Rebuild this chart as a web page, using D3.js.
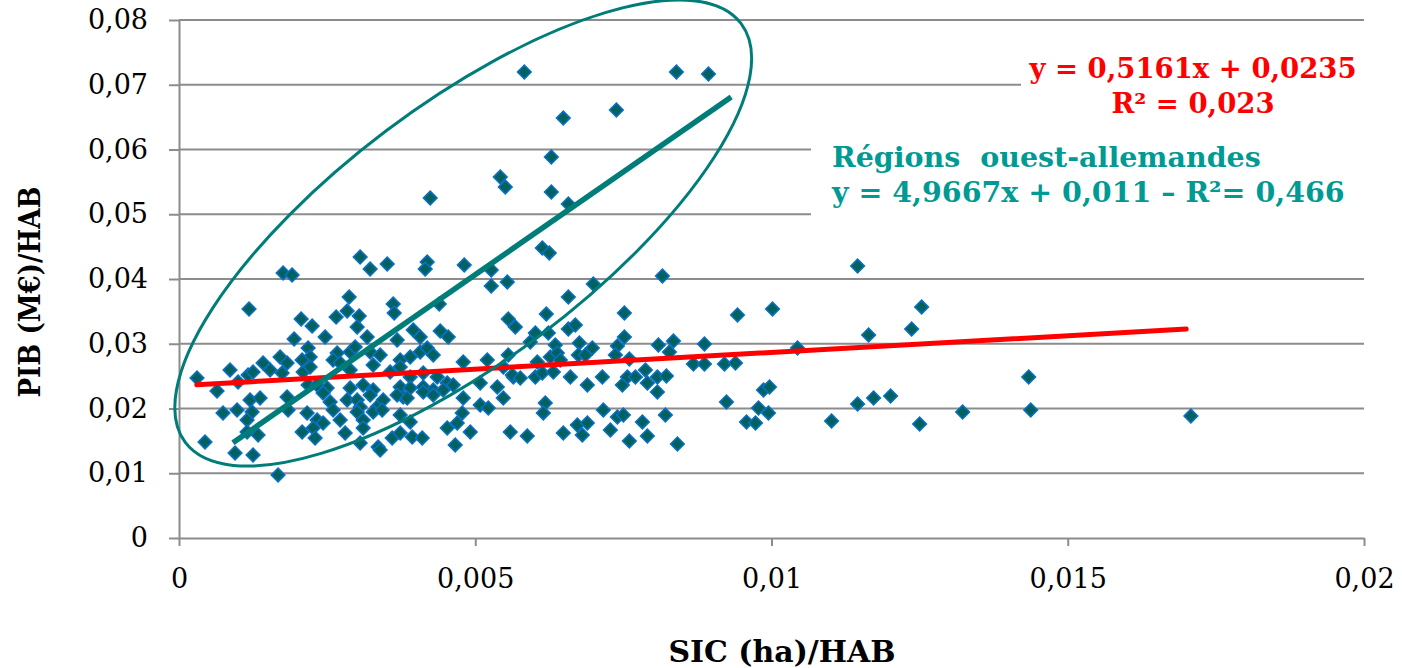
<!DOCTYPE html>
<html>
<head>
<meta charset="utf-8">
<script src="https://cdn.jsdelivr.net/npm/d3@7"></script>
<style>
  body { margin: 0; background: #fff; }
  svg { display: block; }
  text { white-space: pre; }
</style>
</head>
<body>
<svg width="1402" height="668"></svg>
<script>
"use strict";

// SIC (ha) per inhabitant, one value per region
var sic = [
  0.003057,0.003226,0.003514,0.004189,0.004155,0.004814,0.005270,0.005270,0.005541,0.001757,
  0.001909,0.001182,0.002872,0.002838,0.003041,0.003007,0.002061,0.002247,0.002652,0.003615,
  0.003632,0.004392,0.005557,0.005676,0.001943,0.002466,0.003176,0.003682,0.003953,0.004071,
  0.004409,0.004544,0.002179,0.002213,0.002669,0.002889,0.002973,0.003226,0.003395,0.003733,
  0.003902,0.004071,0.004189,0.004291,0.000861,0.000997,0.001166,0.001250,0.001419,0.001537,
  0.001706,0.001824,0.001740,0.002078,0.002095,0.002213,0.002601,0.002720,0.002889,0.003277,
  0.003564,0.003733,0.003902,0.004122,0.004358,0.004797,0.005203,0.005473,0.005642,0.000304,
  0.000642,0.002179,0.002331,0.002500,0.002889,0.003108,0.003277,0.003733,0.003784,0.003902,
  0.004122,0.004291,0.004527,0.004628,0.005084,0.005372,0.005625,0.001199,0.001368,0.000980,
  0.000743,0.001233,0.001149,0.001824,0.001841,0.002432,0.002551,0.002838,0.003007,0.003057,
  0.003226,0.003345,0.003446,0.003682,0.003851,0.004122,0.004291,0.004459,0.004797,0.005084,
  0.005220,0.005473,0.002162,0.002331,0.002432,0.002601,0.002720,0.003007,0.003108,0.003277,
  0.003429,0.003733,0.003902,0.004780,0.004696,0.004527,0.004916,0.005591,0.001149,0.001334,
  0.002078,0.002264,0.002297,0.002804,0.003108,0.003598,0.003733,0.003936,0.004105,0.000439,
  0.000946,0.001250,0.003057,0.003361,0.003395,0.004662,0.001672,
  0.006132,0.006250,0.006199,0.006571,0.006993,0.008159,0.007517,0.006014,0.006233,0.006571,
  0.006689,0.007517,0.005929,0.006351,0.006757,0.006976,0.007399,0.008091,0.008345,0.008277,
  0.008868,0.009426,0.010017,0.010439,0.005557,0.006047,0.006267,0.006385,0.006436,0.006740,
  0.006858,0.007365,0.007601,0.008682,0.008868,0.009206,0.009392,0.005760,0.006014,0.006132,
  0.006318,0.006605,0.006892,0.007145,0.007483,0.007568,0.007703,0.007872,0.007905,0.008074,
  0.008226,0.008074,0.006182,0.006149,0.005878,0.006486,0.006723,0.006892,0.006807,0.007162,
  0.007399,0.007500,0.007280,0.007601,0.007821,0.007905,0.008209,0.008412,0.009240,0.009865,
  0.009966,0.009780,0.009949,0.009578,0.009730,0.011014,
  0.011453,0.012534,0.012365,0.011639,0.014341,0.011453,0.011723,0.012010,0.012500,0.013226,
  0.014375,0.017078,
  0.004240,0.005422,0.005507,0.005828,0.006284,0.006284,0.006571,0.006486,0.007382,0.008395,
  0.008936
];

// PIB (M€) per inhabitant, same order
var pib = [
  0.04340,0.04154,0.04232,0.04263,0.04154,0.04216,0.04139,0.03892,0.03954,0.04093,
  0.04062,0.03537,0.03722,0.03506,0.03429,0.03259,0.03382,0.03274,0.03413,0.03614,
  0.03475,0.03614,0.03382,0.03259,0.03073,0.03104,0.03104,0.03058,0.03212,0.03104,
  0.03197,0.03104,0.02934,0.02795,0.02857,0.02873,0.02950,0.02873,0.02826,0.02749,
  0.02795,0.02873,0.02934,0.02826,0.02595,0.02409,0.02517,0.02564,0.02703,0.02595,
  0.02795,0.02703,0.02548,0.02749,0.02564,0.02641,0.02749,0.02703,0.02595,0.02672,
  0.02564,0.02641,0.02486,0.02548,0.02486,0.02718,0.02749,0.02641,0.02486,0.02471,
  0.02270,0.02363,0.02363,0.02317,0.02317,0.02363,0.02286,0.02332,0.02178,0.02317,
  0.02332,0.02286,0.02394,0.02363,0.02394,0.02332,0.02517,0.02131,0.02162,0.01977,
  0.01931,0.01946,0.01822,0.02178,0.01977,0.02239,0.02100,0.02131,0.02131,0.02023,
  0.02208,0.02023,0.02131,0.02208,0.02162,0.02255,0.02208,0.02286,0.02162,0.02054,
  0.02008,0.02162,0.01931,0.01822,0.01776,0.01977,0.01822,0.01946,0.01822,0.01946,
  0.01977,0.01900,0.01792,0.01931,0.01776,0.01699,0.01637,0.01637,0.01637,0.01591,
  0.01637,0.01699,0.01544,0.01622,0.01699,0.01544,0.01622,0.01560,0.01544,0.01483,
  0.01313,0.01282,0.01467,0.01405,0.01359,0.01436,0.00973,
  0.04479,0.04402,0.03459,0.03722,0.03923,0.04046,0.03475,0.03166,0.03166,0.03228,
  0.03290,0.03104,0.03027,0.02981,0.03012,0.02934,0.02965,0.02981,0.03042,0.02873,
  0.02996,0.03444,0.03537,0.02934,0.02826,0.02718,0.02795,0.02857,0.02749,0.02826,
  0.02826,0.02826,0.02764,0.02687,0.02687,0.02687,0.02703,0.02471,0.02486,0.02548,
  0.02564,0.02486,0.02363,0.02486,0.02363,0.02486,0.02486,0.02595,0.02394,0.02486,
  0.02502,0.02255,0.02085,0.01931,0.01575,0.01622,0.01745,0.01776,0.01591,0.01977,
  0.01869,0.01900,0.01668,0.01498,0.01792,0.01575,0.01900,0.01452,0.02100,0.02286,
  0.02332,0.02008,0.01931,0.01792,0.01776,0.01807,
  0.04201,0.03568,0.03228,0.03135,0.02486,0.02070,0.02162,0.02193,0.01761,0.01946,
  0.01977,0.01884,
  0.05251,0.05575,0.05421,0.07197,0.05884,0.05344,0.05158,0.06486,0.06610,0.07197,
  0.07166
];

var xTicks = [0, 0.005, 0.01, 0.015, 0.02];
var yTicks = [0, 0.01, 0.02, 0.03, 0.04, 0.05, 0.06, 0.07, 0.08];

// trend over all regions
var allSlope = 0.5161, allIntercept = 0.0235;
var allFitFrom = 0.0003, allFitTo = 0.017;
var allLabel = ["y = 0,5161x + 0,0235", "R² = 0,023"];

// west german regions: hand drawn line and ellipse
var westLineX = [0.00091, 0.00932];
var westLineY = [0.0147, 0.0681];
var westCenterX = 0.004797, westCenterY = 0.04710;
var westLabel = ["Régions  ouest-allemandes", "y = 4,9667x + 0,011 – R²= 0,466"];

var xTitle = "SIC (ha)/HAB";
var yTitle = "PIB (M€)/HAB";

var GRID = "#8c8c8c";
var TEAL = "#007d78";
var TEAL_TEXT = "#009a95";
var RED = "#ff0000";
var SERIF = "'DejaVu Serif', serif";

var svg = d3.select("svg");

var x = d3.scaleLinear().domain([0, 0.02]).range([179, 1364]);
var y = d3.scaleLinear().domain([0, 0.08]).range([538, 20]);

var loc = d3.formatLocale({ decimal: ",", thousands: " ", grouping: [3], currency: ["", "€"] });
var fmt = loc.format("~g");

// horizontal grid
svg.append("g")
    .selectAll("line")
    .data(yTicks.slice(1))
    .enter().append("line")
    .attr("x1", x(0)).attr("x2", x(0.02))
    .attr("y1", function (d) { return y(d); })
    .attr("y2", function (d) { return y(d); })
    .attr("stroke", GRID)
    .attr("stroke-width", 2);

// axes
var gy = svg.append("g")
    .attr("transform", "translate(" + x(0) + ",0)")
    .call(d3.axisLeft(y).tickValues(yTicks).tickSize(10).tickSizeOuter(0).tickPadding(21).tickFormat(fmt));

var gx = svg.append("g")
    .attr("transform", "translate(0," + y(0) + ")")
    .call(d3.axisBottom(x).tickValues(xTicks).tickSize(8).tickSizeOuter(0).tickPadding(23).tickFormat(fmt));

[gx, gy].forEach(function (g) {
    g.select(".domain").attr("stroke", GRID).attr("stroke-width", 2);
    g.selectAll(".tick line").attr("stroke", GRID).attr("stroke-width", 2);
    g.selectAll(".tick text")
        .attr("fill", "#000")
        .style("font-family", SERIF)
        .style("font-size", "27px");
});

// white boxes behind the equations
svg.append("rect")
    .attr("x", 1021).attr("y", 48).attr("width", 348).attr("height", 76)
    .attr("fill", "#fff");
svg.append("rect")
    .attr("x", 811).attr("y", 130).attr("width", 558).attr("height", 92)
    .attr("fill", "#fff");

// points
var pts = sic.map(function (v, i) { return { sic: v, pib: pib[i] }; });

svg.append("g")
    .selectAll("path")
    .data(pts)
    .enter().append("path")
    .attr("d", d3.symbol().type(d3.symbolSquare).size(92))
    .attr("transform", function (d) {
        return "translate(" + x(d.sic) + "," + y(d.pib) + ") rotate(45)";
    })
    .attr("fill", "#00625e")
    .attr("stroke", "#0a6fc2")
    .attr("stroke-width", 1.6);

// overall trend line
svg.append("line")
    .attr("x1", x(allFitFrom)).attr("y1", y(allSlope * allFitFrom + allIntercept))
    .attr("x2", x(allFitTo)).attr("y2", y(allSlope * allFitTo + allIntercept))
    .attr("stroke", RED)
    .attr("stroke-width", 5)
    .attr("stroke-linecap", "round");

// west german group
svg.append("ellipse")
    .attr("cx", 0).attr("cy", 0)
    .attr("rx", 348).attr("ry", 128)
    .attr("transform", "translate(" + x(westCenterX) + "," + y(westCenterY) + ") rotate(-37)")
    .attr("fill", "none")
    .attr("stroke", TEAL)
    .attr("stroke-width", 3);

svg.append("line")
    .attr("x1", x(westLineX[0])).attr("y1", y(westLineY[0]))
    .attr("x2", x(westLineX[1])).attr("y2", y(westLineY[1]))
    .attr("stroke", TEAL)
    .attr("stroke-width", 5.5);

// equation labels
svg.append("g")
    .selectAll("text")
    .data(allLabel)
    .enter().append("text")
    .attr("x", 1193)
    .attr("y", function (d, i) { return 78 + i * 35; })
    .attr("text-anchor", "middle")
    .attr("fill", RED)
    .style("font-family", SERIF)
    .style("font-weight", "bold")
    .style("font-size", "27.5px")
    .text(function (d) { return d; });

svg.append("g")
    .selectAll("text")
    .data(westLabel)
    .enter().append("text")
    .attr("x", 832)
    .attr("y", function (d, i) { return 167 + i * 35; })
    .attr("fill", TEAL_TEXT)
    .style("font-family", SERIF)
    .style("font-weight", "bold")
    .style("font-size", "28.5px")
    .text(function (d) { return d; });

// axis titles
svg.append("text")
    .attr("x", 782).attr("y", 662)
    .attr("text-anchor", "middle")
    .attr("textLength", 227).attr("lengthAdjust", "spacingAndGlyphs")
    .style("font-family", SERIF)
    .style("font-weight", "bold")
    .style("font-size", "29px")
    .text(xTitle);

svg.append("text")
    .attr("transform", "translate(40,292) rotate(-90)")
    .attr("text-anchor", "middle")
    .attr("textLength", 211).attr("lengthAdjust", "spacingAndGlyphs")
    .style("font-family", SERIF)
    .style("font-weight", "bold")
    .style("font-size", "29px")
    .text(yTitle);
</script>
</body>
</html>
